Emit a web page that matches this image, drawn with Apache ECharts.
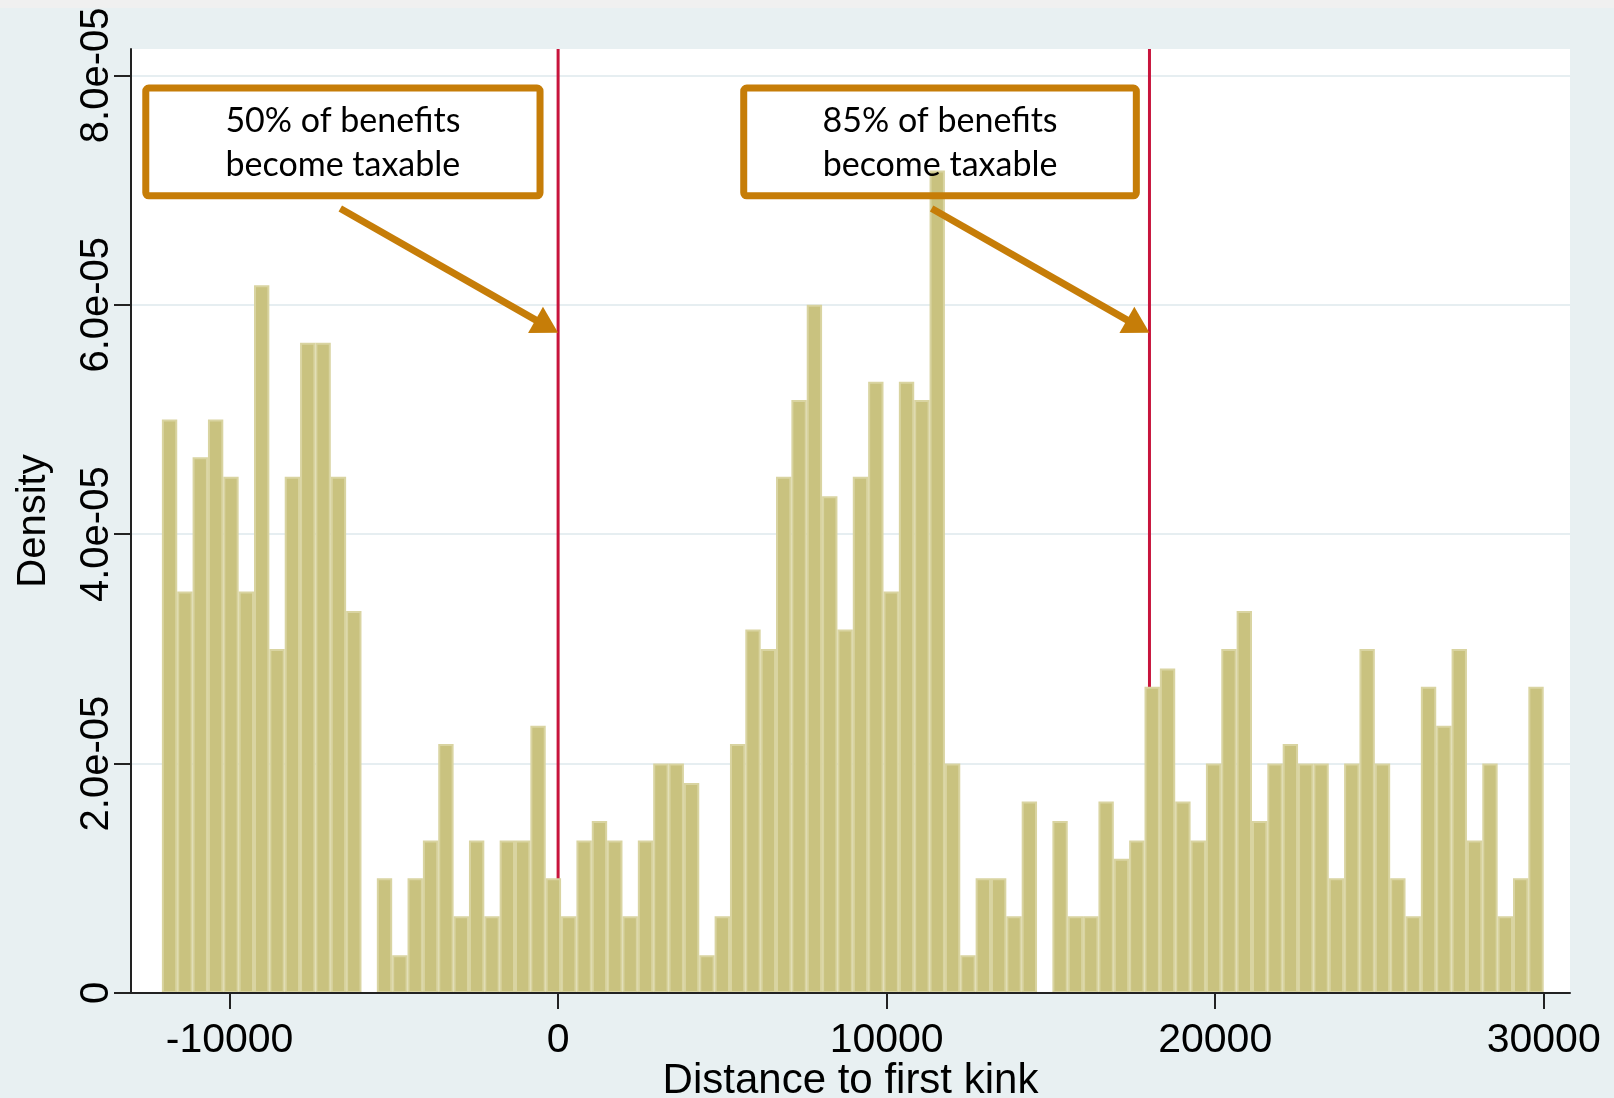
<!DOCTYPE html>
<html>
<head>
<meta charset="utf-8">
<title>Distance to first kink</title>
<script src="https://cdn.jsdelivr.net/npm/echarts@6/dist/echarts.min.js"></script>
<style>
  html, body { margin: 0; padding: 0; background: #e8f0f2; }
  #chart { width: 1614px; height: 1098px; }
</style>
</head>
<body>
<div id="chart"></div>
<script>
// Histogram of income distance to the first kink: 90 equal-width bins
const binStart = -12060;
const binWidth = 467.33;
const density = [
  5.00e-5, 3.50e-5, 4.67e-5, 5.00e-5, 4.50e-5, 3.50e-5, 6.17e-5, 3.00e-5, 4.50e-5, 5.67e-5,
  5.67e-5, 4.50e-5, 3.33e-5, 0,       1.00e-5, 0.33e-5, 1.00e-5, 1.33e-5, 2.17e-5, 0.67e-5,
  1.33e-5, 0.67e-5, 1.33e-5, 1.33e-5, 2.33e-5, 1.00e-5, 0.67e-5, 1.33e-5, 1.50e-5, 1.33e-5,
  0.67e-5, 1.33e-5, 2.00e-5, 2.00e-5, 1.83e-5, 0.33e-5, 0.67e-5, 2.17e-5, 3.17e-5, 3.00e-5,
  4.50e-5, 5.17e-5, 6.00e-5, 4.33e-5, 3.17e-5, 4.50e-5, 5.33e-5, 3.50e-5, 5.33e-5, 5.17e-5,
  7.17e-5, 2.00e-5, 0.33e-5, 1.00e-5, 1.00e-5, 0.67e-5, 1.67e-5, 0,       1.50e-5, 0.67e-5,
  0.67e-5, 1.67e-5, 1.17e-5, 1.33e-5, 2.67e-5, 2.83e-5, 1.67e-5, 1.33e-5, 2.00e-5, 3.00e-5,
  3.33e-5, 1.50e-5, 2.00e-5, 2.17e-5, 2.00e-5, 2.00e-5, 1.00e-5, 2.00e-5, 3.00e-5, 2.00e-5,
  1.00e-5, 0.67e-5, 2.67e-5, 2.33e-5, 3.00e-5, 1.33e-5, 2.00e-5, 0.67e-5, 1.00e-5, 2.67e-5
];

// Axis ranges and tick values
const xRange = [-13000, 30800];
const yRange = [0, 8.23e-5];
const xTicks = [-10000, 0, 10000, 20000, 30000];
const yTicks = [0, 2e-5, 4e-5, 6e-5, 8e-5];

// Kinks in the benefit taxation schedule
const kinks = [0, 18000];

// Annotation boxes [xLeft, xRight, yBottom, yTop], their texts and arrows
const notes = ['50% of benefits\nbecome taxable', '85% of benefits\nbecome taxable'];
const noteBoxes = [
  [-12550, -550, 6.95e-5, 7.89e-5],
  [5650, 17600, 6.95e-5, 7.89e-5]
];
const arrowTails = [[-6630, 6.84e-5], [11370, 6.84e-5]];
const arrowTips = [[0, 5.756e-5], [18000, 5.756e-5]];

const ORANGE = '#c67d08';
const AXIS_FONT = '"Liberation Sans", Arial, sans-serif';

const bins = density.map((d, i) => [binStart + i * binWidth, binStart + (i + 1) * binWidth, d]);

function renderBar(params, api) {
  const h = api.value(2);
  if (!(h > 0)) return null;
  const p0 = api.coord([api.value(0), 0]);
  const p1 = api.coord([api.value(1), h]);
  const inset = 1;
  return {
    type: 'rect',
    shape: {
      x: p0[0] + inset,
      y: p1[1] + inset,
      width: p1[0] - p0[0] - 2 * inset,
      height: p0[1] - p1[1] - 2 * inset
    },
    style: { fill: '#c9c27f', stroke: '#d9d4a1', lineWidth: 2 }
  };
}

function renderKink(params, api) {
  const x = api.value(0);
  const a = api.coord([x, yRange[0]]);
  const b = api.coord([x, yRange[1]]);
  return {
    type: 'line',
    shape: { x1: a[0], y1: a[1], x2: b[0], y2: b[1] },
    style: { stroke: '#c8143c', lineWidth: 3 }
  };
}

function renderNote(params, api) {
  const i = params.dataIndex;
  const box = noteBoxes[i];
  const tl = api.coord([box[0], box[3]]);
  const br = api.coord([box[1], box[2]]);
  const tail = api.coord(arrowTails[i]);
  const tip = api.coord(arrowTips[i]);
  const dx = tip[0] - tail[0], dy = tip[1] - tail[1];
  const len = Math.hypot(dx, dy);
  const ux = dx / len, uy = dy / len;
  const headLen = 26, headHalf = 15;
  const bx = tip[0] - ux * headLen, by = tip[1] - uy * headLen;
  return {
    type: 'group',
    children: [
      {
        type: 'rect',
        shape: { x: tl[0], y: tl[1], width: br[0] - tl[0], height: br[1] - tl[1], r: 3 },
        style: { fill: 'none', stroke: ORANGE, lineWidth: 7 }
      },
      {
        type: 'text',
        x: (tl[0] + br[0]) / 2,
        y: (tl[1] + br[1]) / 2 + 1,
        style: {
          text: notes[i],
          fill: '#000',
          fontFamily: 'Lato, "Open Sans", sans-serif',
          fontSize: 34,
          lineHeight: 44.5,
          align: 'center',
          verticalAlign: 'middle'
        }
      },
      {
        type: 'line',
        shape: { x1: tail[0], y1: tail[1], x2: bx + ux * 2, y2: by + uy * 2 },
        style: { stroke: ORANGE, lineWidth: 7 }
      },
      {
        type: 'polygon',
        shape: {
          points: [
            [tip[0], tip[1]],
            [bx - uy * headHalf, by + ux * headHalf],
            [bx + uy * headHalf, by - ux * headHalf]
          ]
        },
        style: { fill: ORANGE }
      }
    ]
  };
}

const chart = echarts.init(document.getElementById('chart'), null, { renderer: 'canvas' });

chart.setOption({
  backgroundColor: '#e8f0f2',
  animation: false,
  graphic: [{
    type: 'rect',
    left: 0, top: 0,
    shape: { width: 1614, height: 8 },
    style: { fill: '#f0f0f0' },
    silent: true
  }],
  grid: {
    left: 131, right: 44, top: 49, bottom: 105,
    outerBoundsMode: 'none',
    containLabel: false,
    show: true, backgroundColor: '#ffffff', borderWidth: 0
  },
  xAxis: {
    type: 'value',
    min: xRange[0], max: xRange[1],
    z: 10,
    name: 'Distance to first kink',
    nameLocation: 'middle',
    nameGap: 67,
    nameMoveOverlap: false,
    nameTextStyle: { fontFamily: AXIS_FONT, fontSize: 42, color: '#000' },
    axisLine: { show: true, onZero: false, lineStyle: { color: '#222', width: 2 } },
    axisTick: { show: true, length: 16, customValues: xTicks, lineStyle: { color: '#222', width: 2 } },
    axisLabel: {
      customValues: xTicks,
      margin: 27,
      fontFamily: AXIS_FONT, fontSize: 41, color: '#000',
      formatter: v => String(v)
    },
    splitLine: { show: false }
  },
  yAxis: {
    type: 'value',
    min: yRange[0], max: yRange[1],
    interval: 2e-5,
    name: 'Density',
    nameLocation: 'middle',
    nameGap: 77,
    nameMoveOverlap: false,
    nameTextStyle: { fontFamily: AXIS_FONT, fontSize: 40, color: '#000' },
    axisLine: { show: true, onZero: false, lineStyle: { color: '#222', width: 2 } },
    axisTick: { show: true, length: 17, customValues: yTicks, lineStyle: { color: '#222', width: 2 } },
    axisLabel: {
      customValues: yTicks,
      rotate: 90,
      margin: 14,
      fontFamily: AXIS_FONT, fontSize: 40, color: '#000',
      formatter: v => v === 0 ? '0' : v.toExponential(1).replace(/e([+-])(\d)$/, 'e$10$2')
    },
    splitLine: { show: true, lineStyle: { color: '#e6eef1', width: 2 } }
  },
  series: [
    {
      type: 'custom',
      name: 'kinks',
      z: 1,
      renderItem: renderKink,
      encode: { x: 0 },
      data: kinks.map(k => [k])
    },
    {
      type: 'custom',
      name: 'density',
      z: 2,
      renderItem: renderBar,
      encode: { x: [0, 1], y: 2 },
      data: bins
    },
    {
      type: 'custom',
      name: 'notes',
      z: 5,
      clip: false,
      renderItem: renderNote,
      encode: { x: 0, y: 1 },
      data: arrowTails
    }
  ]
});
</script>
</body>
</html>
